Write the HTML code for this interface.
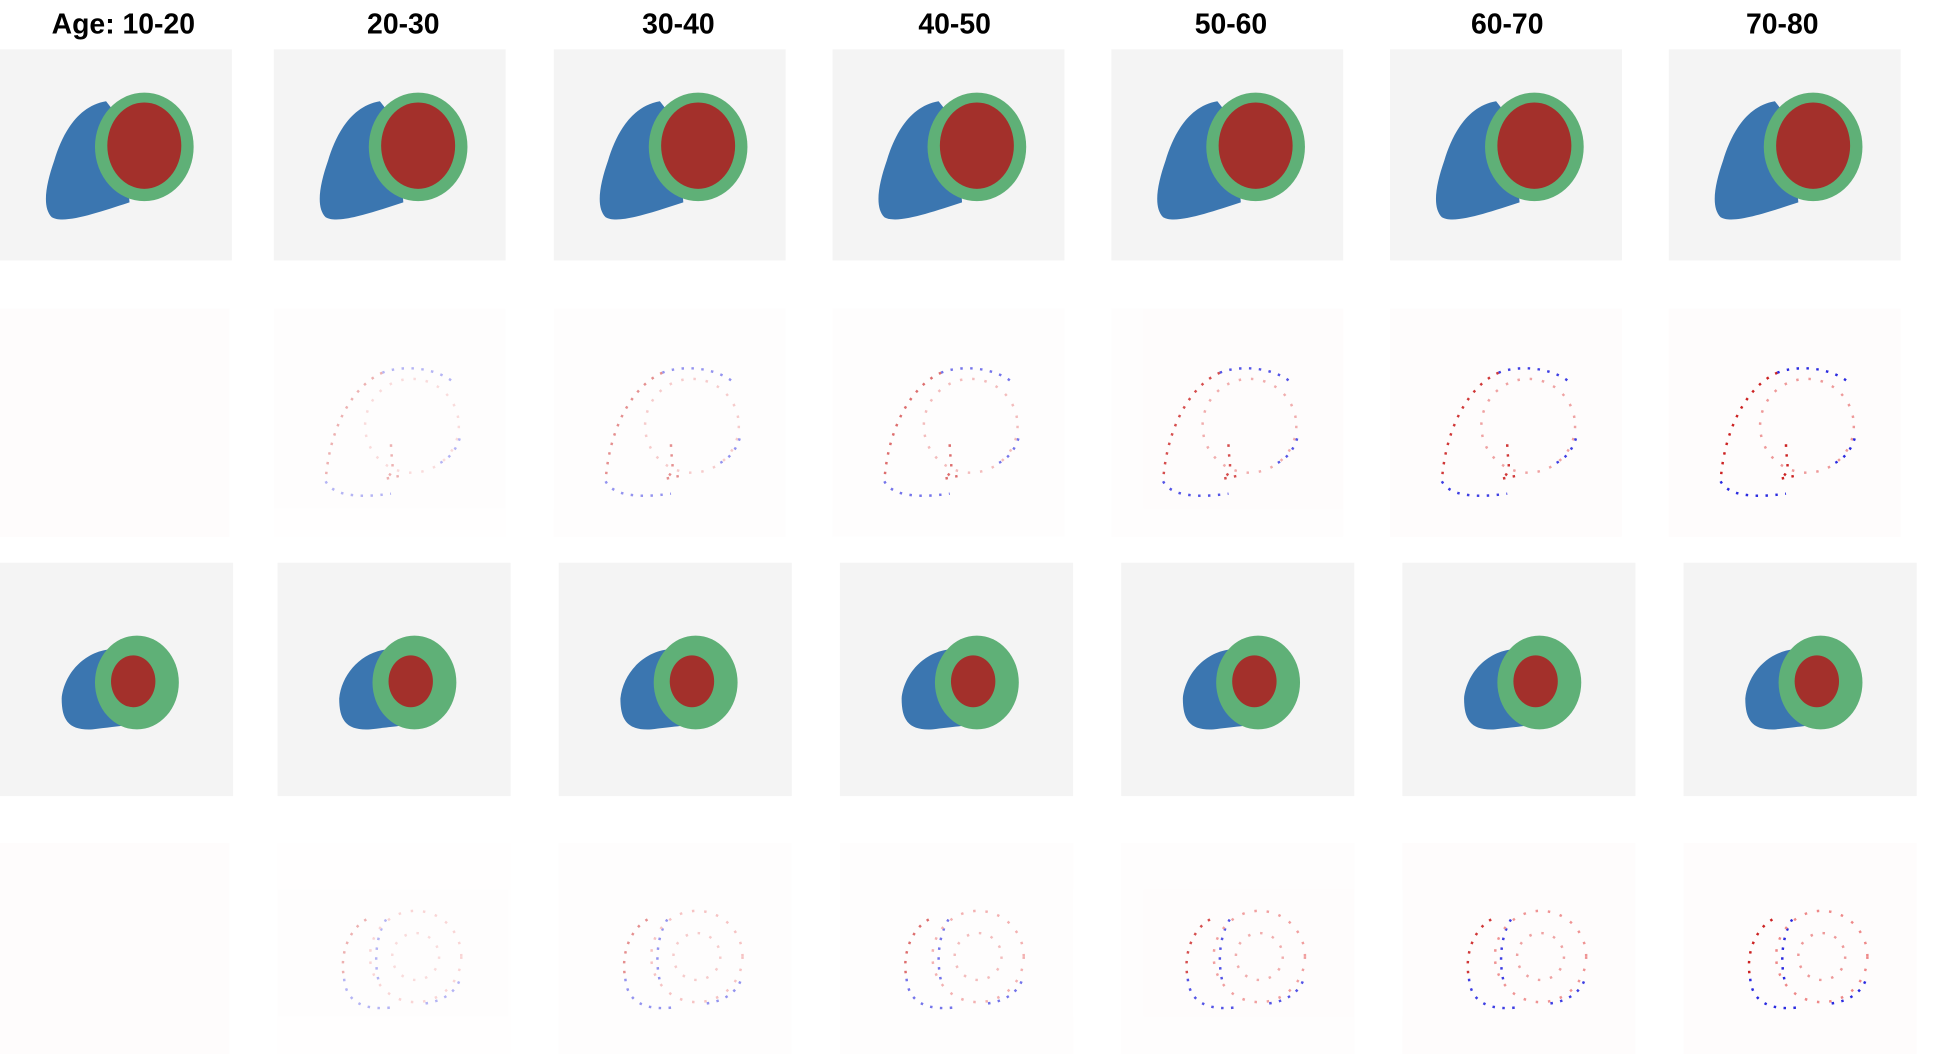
<!DOCTYPE html>
<html><head><meta charset="utf-8"><style>
html,body{margin:0;padding:0;background:#fff;}
svg{display:block;}
text{font-family:"Liberation Sans",sans-serif;font-weight:bold;font-size:23px;fill:#000;text-anchor:middle;}
</style></head><body>
<svg width="1934" height="1054" viewBox="0 0 1568 854" preserveAspectRatio="none" xmlns="http://www.w3.org/2000/svg">
<defs>
<g id="h1">
<rect x="0" y="0" width="188" height="171" fill="#f4f4f4"/>
<path d="M86,42 C62,46 50,70 44,90 C37,110 34,128 42,136 C52,142 80,132 105,124 L100,60 Z" fill="#3b76b0"/>
<ellipse cx="117" cy="79" rx="40" ry="44" fill="#5fb077"/>
<ellipse cx="117" cy="78" rx="30" ry="35" fill="#a3302b"/>
</g>
<g id="h3">
<rect x="0" y="0" width="189" height="189" fill="#f4f4f4"/>
<path d="M90,70 C68,72 52,90 50,110 C50,128 56,136 75,135 C90,133 105,132 110,130 L100,72 Z" fill="#3b76b0"/>
<ellipse cx="111" cy="97" rx="34" ry="38" fill="#5fb077"/>
<ellipse cx="108" cy="96" rx="18" ry="21" fill="#a3302b"/>
</g>
<g id="d2" fill="none" stroke-width="2" stroke-dasharray="2 6">
<rect x="0" y="0" width="188" height="185" fill="#fefcfc" stroke="none"/>
<path d="M88,52 C65,62 45,95 42,140" stroke="#cc2222"/>
<path d="M42,140 C50,155 80,152 95,150" stroke="#2a2ae0"/>
<path d="M88,52 C105,45 135,48 148,62" stroke="#2a2ae0"/>
<circle cx="112" cy="95" r="38" stroke="#ee9999" stroke-dasharray="2 8"/>
<path d="M95,110 C95,125 100,132 90,138 L105,135" stroke="#cc2222"/>
<path d="M135,125 C145,120 150,110 152,100" stroke="#2a2ae0"/>
</g>
<g id="d4" fill="none" stroke-width="2" stroke-dasharray="2 6">
<rect x="0" y="0" width="189" height="172" fill="#fefcfc" stroke="none"/>
<path d="M72,62 C58,70 50,90 54,110" stroke="#cc2222"/>
<path d="M54,110 C56,135 80,135 95,133" stroke="#2a2ae0"/>
<path d="M88,62 C80,75 78,95 82,112" stroke="#2a2ae0"/>
<circle cx="112" cy="92" r="37" stroke="#ee8888" stroke-dasharray="2 8"/>
<circle cx="112" cy="92" r="19" stroke="#ee9999" stroke-dasharray="2 8"/>
<path d="M120,130 C135,128 145,120 148,110" stroke="#2a2ae0"/>
</g>
</defs>
<text x="100" y="27">Age: 10-20</text>
<text x="327" y="27">20-30</text>
<text x="550" y="27">30-40</text>
<text x="774" y="27">40-50</text>
<text x="998" y="27">50-60</text>
<text x="1222" y="27">60-70</text>
<text x="1445" y="27">70-80</text>

<use href="#h1" x="0" y="40"/><use href="#h1" x="222" y="40"/><use href="#h1" x="449" y="40"/><use href="#h1" x="675" y="40"/><use href="#h1" x="901" y="40"/><use href="#h1" x="1127" y="40"/><use href="#h1" x="1353" y="40"/>

<rect x="0" y="250" width="186" height="185" fill="#fefcfc"/>
<use href="#d2" x="222" y="250" opacity="0.35"/><use href="#d2" x="449" y="250" opacity="0.5"/><use href="#d2" x="675" y="250" opacity="0.65"/><use href="#d2" x="901" y="250" opacity="0.8"/><use href="#d2" x="1127" y="250" opacity="0.9"/><use href="#d2" x="1353" y="250"/>

<use href="#h3" x="0" y="456"/><use href="#h3" x="225" y="456"/><use href="#h3" x="453" y="456"/><use href="#h3" x="681" y="456"/><use href="#h3" x="909" y="456"/><use href="#h3" x="1137" y="456"/><use href="#h3" x="1365" y="456"/>

<rect x="0" y="683" width="186" height="172" fill="#fefcfc"/>
<use href="#d4" x="225" y="683" opacity="0.35"/><use href="#d4" x="453" y="683" opacity="0.5"/><use href="#d4" x="681" y="683" opacity="0.65"/><use href="#d4" x="909" y="683" opacity="0.8"/><use href="#d4" x="1137" y="683" opacity="0.9"/><use href="#d4" x="1365" y="683"/>
</svg>
</body></html>
